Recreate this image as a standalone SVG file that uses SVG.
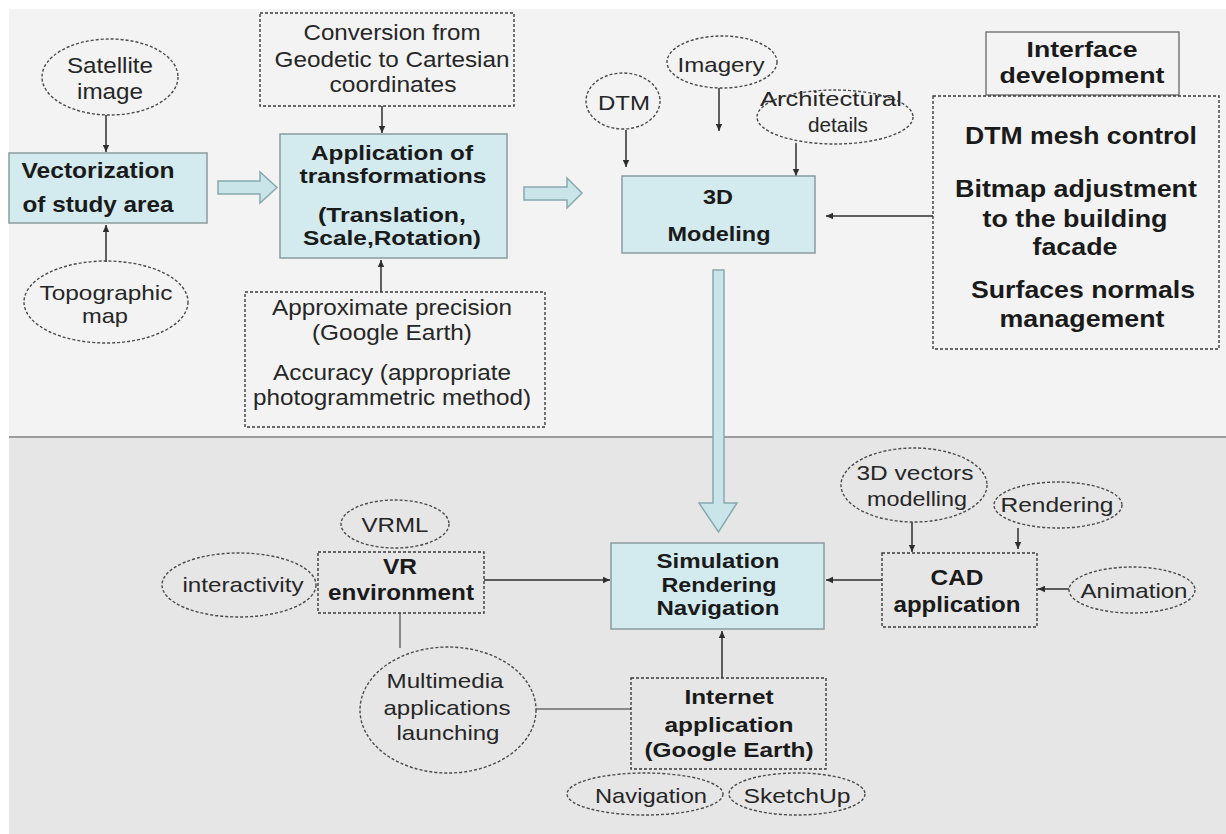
<svg xmlns="http://www.w3.org/2000/svg" width="1226" height="834" viewBox="0 0 1226 834">
<style>
text{font-family:"Liberation Sans",Arial,sans-serif;fill:#262626;text-anchor:middle;}
.b{font-weight:bold;fill:#1a1a1a;}
.t21{font-size:21px;}
.t22{font-size:22px;}
.t24{font-size:24px;}
.blue{fill:#d3eaee;stroke:#8a9c9f;stroke-width:1.5;}
.dash{fill:none;stroke:#3a3a3a;stroke-width:1.4;stroke-dasharray:3 2;}
.solid{fill:none;stroke:#707070;stroke-width:1.4;}
.ell{fill:none;stroke:#4a4a4a;stroke-width:1.4;stroke-dasharray:3 2;}
.con{fill:none;stroke:#2e2e2e;stroke-width:1.5;}
.plain{fill:none;stroke:#6a6a6a;stroke-width:1.5;}
.block{fill:#c9e5ea;stroke:#86a9ae;stroke-width:1.5;}
</style>
<defs>
<marker id="ah" markerUnits="userSpaceOnUse" markerWidth="8" markerHeight="8" refX="7" refY="4" orient="auto">
<path d="M0,0.8 L7,4 L0,7.2 z" fill="#2e2e2e"/>
</marker>
</defs>
<rect x="0" y="0" width="1226" height="834" fill="#ffffff"/>
<rect x="9" y="9" width="1217" height="428" fill="#f3f3f3"/>
<rect x="9" y="438" width="1217" height="396" fill="#e6e6e6"/>
<line x1="9" y1="437" x2="1226" y2="437" stroke="#9c9c9c" stroke-width="2"/>

<g id="connectors">
<line class="con" x1="106" y1="115" x2="106" y2="152" marker-end="url(#ah)"/>
<line class="con" x1="106" y1="262" x2="106" y2="225" marker-end="url(#ah)"/>
<line class="con" x1="382" y1="106" x2="382" y2="133" marker-end="url(#ah)"/>
<line class="con" x1="381" y1="292" x2="381" y2="260" marker-end="url(#ah)"/>
<line class="con" x1="626" y1="130" x2="626" y2="167" marker-end="url(#ah)"/>
<line class="con" x1="719" y1="88" x2="719" y2="131" marker-end="url(#ah)"/>
<line class="con" x1="796" y1="143" x2="796" y2="176" marker-end="url(#ah)"/>
<line class="con" x1="933" y1="216" x2="826" y2="216" marker-end="url(#ah)"/>
<line class="con" x1="484" y1="580" x2="610" y2="580" marker-end="url(#ah)"/>
<line class="con" x1="882" y1="580" x2="826" y2="580" marker-end="url(#ah)"/>
<line class="con" x1="722" y1="678" x2="722" y2="631" marker-end="url(#ah)"/>
<line class="con" x1="912" y1="522" x2="912" y2="552" marker-end="url(#ah)"/>
<line class="con" x1="1018" y1="528" x2="1018" y2="549" marker-end="url(#ah)"/>
<line class="con" x1="1069" y1="589" x2="1038" y2="589" marker-end="url(#ah)"/>
<line class="plain" x1="400" y1="613" x2="400" y2="648"/>
<line class="plain" x1="536" y1="709" x2="631" y2="709"/>
<path class="block" d="M218,181 L260,181 L260,172 L277,187.5 L260,203 L260,194 L218,194 z"/>
<path class="block" d="M524,187 L567,187 L567,178 L582,193 L567,208 L567,200 L524,200 z"/>
<path class="block" d="M713,270 L724,270 L724,503 L737,503 L718.5,532 L699,503 L713,503 z"/>
</g>

<g id="satellite">
<ellipse class="ell" cx="110" cy="77" rx="68" ry="38"/>
<text class="t22" x="110" y="73" textLength="86" lengthAdjust="spacingAndGlyphs">Satellite</text>
<text class="t22" x="110" y="99" textLength="66" lengthAdjust="spacingAndGlyphs">image</text>
</g>
<g id="vectorization">
<rect class="blue" x="9" y="153" width="198" height="70"/>
<text class="b t22" x="98" y="178" textLength="153" lengthAdjust="spacingAndGlyphs">Vectorization</text>
<text class="b t22" x="98" y="212" textLength="151" lengthAdjust="spacingAndGlyphs">of study area</text>
</g>
<g id="topographic">
<ellipse class="ell" cx="106" cy="302" rx="82" ry="41"/>
<text class="t21" x="106" y="300" textLength="133" lengthAdjust="spacingAndGlyphs">Topographic</text>
<text class="t21" x="105" y="323" textLength="46" lengthAdjust="spacingAndGlyphs">map</text>
</g>
<g id="conversion">
<rect class="dash" x="260" y="13" width="254" height="93"/>
<text class="t22" x="392" y="40" textLength="177" lengthAdjust="spacingAndGlyphs">Conversion from</text>
<text class="t22" x="392" y="67" textLength="235" lengthAdjust="spacingAndGlyphs">Geodetic to Cartesian</text>
<text class="t22" x="393" y="92" textLength="127" lengthAdjust="spacingAndGlyphs">coordinates</text>
</g>
<g id="application">
<rect class="blue" x="280" y="134" width="227" height="124"/>
<text class="b t21" x="392" y="160" textLength="162" lengthAdjust="spacingAndGlyphs">Application of</text>
<text class="b t21" x="393" y="183" textLength="187" lengthAdjust="spacingAndGlyphs">transformations</text>
<text class="b t21" x="392" y="222" textLength="148" lengthAdjust="spacingAndGlyphs">(Translation,</text>
<text class="b t21" x="392" y="245" textLength="178" lengthAdjust="spacingAndGlyphs">Scale,Rotation)</text>
</g>
<g id="approximate">
<rect class="dash" x="245" y="292" width="300" height="135"/>
<text class="t22" x="392" y="315" textLength="240" lengthAdjust="spacingAndGlyphs">Approximate precision</text>
<text class="t22" x="392" y="340" textLength="160" lengthAdjust="spacingAndGlyphs">(Google Earth)</text>
<text class="t22" x="392" y="380" textLength="238" lengthAdjust="spacingAndGlyphs">Accuracy (appropriate</text>
<text class="t22" x="392" y="405" textLength="278" lengthAdjust="spacingAndGlyphs">photogrammetric method)</text>
</g>
<g id="dtm">
<ellipse class="ell" cx="623" cy="101" rx="37" ry="28"/>
<text class="t21" x="624" y="110" textLength="52" lengthAdjust="spacingAndGlyphs">DTM</text>
</g>
<g id="imagery">
<ellipse class="ell" cx="722" cy="62" rx="55" ry="26"/>
<text class="t21" x="721" y="72" textLength="87" lengthAdjust="spacingAndGlyphs">Imagery</text>
</g>
<g id="architectural">
<ellipse class="ell" cx="835" cy="117" rx="78" ry="27"/>
<text class="t21" x="831" y="106" textLength="142" lengthAdjust="spacingAndGlyphs">Architectural</text>
<text class="t21" x="838" y="132" textLength="60" lengthAdjust="spacingAndGlyphs">details</text>
</g>
<g id="modeling">
<rect class="blue" x="622" y="176" width="193" height="77"/>
<text class="b t21" x="718" y="204" textLength="30" lengthAdjust="spacingAndGlyphs">3D</text>
<text class="b t21" x="719" y="241" textLength="103" lengthAdjust="spacingAndGlyphs">Modeling</text>
</g>
<g id="interface">
<rect class="solid" x="986" y="32" width="193" height="63"/>
<text class="b t22" x="1082" y="57" textLength="111" lengthAdjust="spacingAndGlyphs">Interface</text>
<text class="b t22" x="1082" y="83" textLength="165" lengthAdjust="spacingAndGlyphs">development</text>
</g>
<g id="interface-tasks">
<rect class="dash" x="933" y="96" width="286" height="253"/>
<text class="b t24" x="1081" y="144" textLength="232" lengthAdjust="spacingAndGlyphs">DTM mesh control</text>
<text class="b t24" x="1076" y="197" textLength="242" lengthAdjust="spacingAndGlyphs">Bitmap adjustment</text>
<text class="b t24" x="1075" y="227" textLength="185" lengthAdjust="spacingAndGlyphs">to the building</text>
<text class="b t24" x="1075" y="255" textLength="85" lengthAdjust="spacingAndGlyphs">facade</text>
<text class="b t24" x="1083" y="298" textLength="224" lengthAdjust="spacingAndGlyphs">Surfaces normals</text>
<text class="b t24" x="1082" y="327" textLength="165" lengthAdjust="spacingAndGlyphs">management</text>
</g>
<g id="vrml">
<ellipse class="ell" cx="395" cy="524" rx="54" ry="24"/>
<text class="t21" x="395" y="532" textLength="67" lengthAdjust="spacingAndGlyphs">VRML</text>
</g>
<g id="interactivity">
<ellipse class="ell" cx="239" cy="585" rx="77" ry="32"/>
<text class="t21" x="243" y="592" textLength="121" lengthAdjust="spacingAndGlyphs">interactivity</text>
</g>
<g id="vr-environment">
<rect class="dash" x="318" y="552" width="166" height="61"/>
<text class="b t22" x="400" y="574" textLength="34" lengthAdjust="spacingAndGlyphs">VR</text>
<text class="b t22" x="401" y="600" textLength="146" lengthAdjust="spacingAndGlyphs">environment</text>
</g>
<g id="multimedia">
<ellipse class="ell" cx="448" cy="710" rx="88" ry="63"/>
<text class="t21" x="445" y="688" textLength="117" lengthAdjust="spacingAndGlyphs">Multimedia</text>
<text class="t21" x="447" y="715" textLength="127" lengthAdjust="spacingAndGlyphs">applications</text>
<text class="t21" x="448" y="740" textLength="103" lengthAdjust="spacingAndGlyphs">launching</text>
</g>
<g id="simulation">
<rect class="blue" x="611" y="543" width="213" height="86"/>
<text class="b t21" x="718" y="568" textLength="123" lengthAdjust="spacingAndGlyphs">Simulation</text>
<text class="b t21" x="719" y="592" textLength="115" lengthAdjust="spacingAndGlyphs">Rendering</text>
<text class="b t21" x="718" y="615" textLength="123" lengthAdjust="spacingAndGlyphs">Navigation</text>
</g>
<g id="vectors-modelling">
<ellipse class="ell" cx="914" cy="485" rx="73" ry="37"/>
<text class="t21" x="915" y="480" textLength="117" lengthAdjust="spacingAndGlyphs">3D vectors</text>
<text class="t21" x="917" y="506" textLength="100" lengthAdjust="spacingAndGlyphs">modelling</text>
</g>
<g id="rendering">
<ellipse class="ell" cx="1058" cy="505" rx="64" ry="23"/>
<text class="t21" x="1057" y="512" textLength="113" lengthAdjust="spacingAndGlyphs">Rendering</text>
</g>
<g id="cad">
<rect class="dash" x="882" y="553" width="155" height="74"/>
<text class="b t22" x="957" y="585" textLength="53" lengthAdjust="spacingAndGlyphs">CAD</text>
<text class="b t22" x="957" y="612" textLength="127" lengthAdjust="spacingAndGlyphs">application</text>
</g>
<g id="animation">
<ellipse class="ell" cx="1132" cy="590" rx="63" ry="23"/>
<text class="t21" x="1134" y="598" textLength="107" lengthAdjust="spacingAndGlyphs">Animation</text>
</g>
<g id="internet">
<rect class="dash" x="631" y="678" width="195" height="91"/>
<text class="b t21" x="729" y="704" textLength="89" lengthAdjust="spacingAndGlyphs">Internet</text>
<text class="b t21" x="729" y="732" textLength="129" lengthAdjust="spacingAndGlyphs">application</text>
<text class="b t21" x="729" y="757" textLength="169" lengthAdjust="spacingAndGlyphs">(Google Earth)</text>
</g>
<g id="navigation">
<ellipse class="ell" cx="645" cy="794" rx="78" ry="21"/>
<text class="t21" x="651" y="803" textLength="112" lengthAdjust="spacingAndGlyphs">Navigation</text>
</g>
<g id="sketchup">
<ellipse class="ell" cx="797" cy="794" rx="68" ry="21"/>
<text class="t21" x="797" y="803" textLength="107" lengthAdjust="spacingAndGlyphs">SketchUp</text>
</g>
</svg>
